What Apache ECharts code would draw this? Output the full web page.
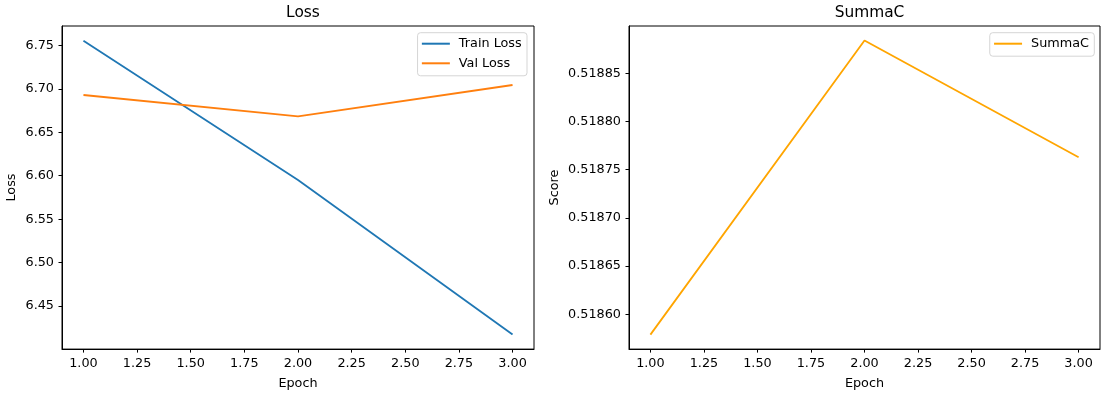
<!DOCTYPE html>
<html>
<head>
<meta charset="utf-8">
<script src="https://cdn.jsdelivr.net/npm/echarts@6/dist/echarts.min.js"></script>
<style>
html,body{margin:0;padding:0;background:#fff;}
#chart{width:1105px;height:396px;}
</style>
</head>
<body>
<div id="chart"></div>
<script>
const epochs = [1, 2, 3];
const trainLoss = [6.7554, 6.5950, 6.4174];
const valLoss = [6.6929, 6.6684, 6.7044];
const summac = [0.518579, 0.518884, 0.518763];
const xTicks = [1.00, 1.25, 1.50, 1.75, 2.00, 2.25, 2.50, 2.75, 3.00];
const lossTicks = [6.45, 6.50, 6.55, 6.60, 6.65, 6.70, 6.75];
const scoreTicks = [0.51860, 0.51865, 0.51870, 0.51875, 0.51880, 0.51885];

const FONT = 'DejaVu Sans';
const FS = 12.8;
const pairs = (xs, ys) => xs.map((x, i) => [x, ys[i]]);

function xAxis(gridIndex) {
  return {
    type: 'value', gridIndex, min: 0.9, max: 3.1,
    name: 'Epoch', nameLocation: 'middle', nameGap: 24.5,
    nameTextStyle: {color: '#000', fontFamily: FONT, fontSize: FS, lineHeight: 15},
    axisLine: {show: true, lineStyle: {color: '#000', width: 1}},
    axisTick: {show: true, inside: false, length: 3.5, customValues: xTicks, lineStyle: {color: '#000'}},
    axisLabel: {customValues: xTicks, color: '#000', fontFamily: FONT, fontSize: FS, lineHeight: 15, margin: 7,
      formatter: v => v.toFixed(2)},
    splitLine: {show: false}
  };
}
function yAxis(gridIndex, name, min, max, ticks, dec, gap) {
  return {
    type: 'value', gridIndex, min, max,
    name, nameLocation: 'middle', nameGap: gap,
    nameTextStyle: {color: '#000', fontFamily: FONT, fontSize: FS, lineHeight: 15},
    axisLine: {show: true, lineStyle: {color: '#000', width: 1}},
    axisTick: {show: true, inside: false, length: 3.5, customValues: ticks, lineStyle: {color: '#000'}},
    axisLabel: {customValues: ticks, color: '#000', fontFamily: FONT, fontSize: FS, margin: 8,
      formatter: v => v.toFixed(dec)},
    splitLine: {show: false}
  };
}
const legendBase = {
  orient: 'vertical', backgroundColor: 'rgba(255,255,255,0.8)',
  borderColor: '#d5d5d5', borderWidth: 1, borderRadius: 3,
  padding: [3.5, 5.3, 5, 4.3], itemWidth: 28, itemHeight: 2, itemGap: 4.6,
  icon: 'rect',
  textStyle: {color: '#000', fontFamily: FONT, fontSize: FS, lineHeight: 15, padding: [0, 0, 0, 4]}
};

const chart = echarts.init(document.getElementById('chart'), null, {renderer: 'canvas'});
chart.setOption({
  animation: false,
  backgroundColor: '#fff',
  title: [
    {text: 'Loss', left: 298, top: 0, textAlign: 'center',
     textStyle: {fontFamily: FONT, fontSize: 15.4, fontWeight: 'normal', color: '#000'}},
    {text: 'SummaC', left: 864.5, top: 0, textAlign: 'center',
     textStyle: {fontFamily: FONT, fontSize: 15.4, fontWeight: 'normal', color: '#000'}}
  ],
  grid: [
    {left: 62, right: 571, top: 26, bottom: 46, show: true, borderColor: '#000', borderWidth: 1, backgroundColor: 'transparent'},
    {left: 629, right: 5, top: 26, bottom: 46, show: true, borderColor: '#000', borderWidth: 1, backgroundColor: 'transparent'}
  ],
  xAxis: [xAxis(0), xAxis(1)],
  yAxis: [
    yAxis(0, 'Loss', 6.4005, 6.7723, lossTicks, 2, 43),
    yAxis(1, 'Score', 0.518564, 0.518899, scoreTicks, 5, 67)
  ],
  legend: [
    Object.assign({}, legendBase, {right: 578, top: 32.7, data: ['Train Loss', 'Val Loss']}),
    Object.assign({}, legendBase, {right: 10.7, top: 32.7, data: ['SummaC']})
  ],
  series: [
    {name: 'Train Loss', type: 'line', xAxisIndex: 0, yAxisIndex: 0, data: pairs(epochs, trainLoss),
     symbol: 'none', color: '#1f77b4', lineStyle: {width: 1.8, color: '#1f77b4'}},
    {name: 'Val Loss', type: 'line', xAxisIndex: 0, yAxisIndex: 0, data: pairs(epochs, valLoss),
     symbol: 'none', color: '#ff7f0e', lineStyle: {width: 1.8, color: '#ff7f0e'}},
    {name: 'SummaC', type: 'line', xAxisIndex: 1, yAxisIndex: 1, data: pairs(epochs, summac),
     symbol: 'none', color: '#ffa500', lineStyle: {width: 1.8, color: '#ffa500'}}
  ]
});
</script>
</body>
</html>
